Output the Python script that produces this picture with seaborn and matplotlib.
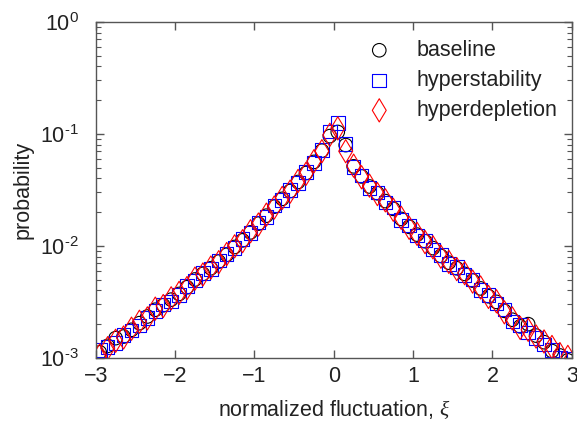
import numpy as np
import pandas as pd
import matplotlib
matplotlib.use('Agg')
import matplotlib.pyplot as plt
import matplotlib.ticker as mticker
import seaborn as sns

# bin centres of the normalized fluctuation
xi = [-2.95, -2.85, -2.75, -2.65, -2.55, -2.45, -2.35, -2.25, -2.15, -2.05,
      -1.95, -1.85, -1.75, -1.65, -1.55, -1.45, -1.35, -1.25, -1.15, -1.05,
      -0.95, -0.85, -0.75, -0.65, -0.55, -0.45, -0.35, -0.25, -0.15, -0.05,
      0.05, 0.15, 0.25, 0.35, 0.45, 0.55, 0.65, 0.75, 0.85, 0.95,
      1.05, 1.15, 1.25, 1.35, 1.45, 1.55, 1.65, 1.75, 1.85, 1.95,
      2.05, 2.15, 2.25, 2.35, 2.45, 2.55, 2.65, 2.75, 2.85, 2.95]

p_baseline = [0.00112, 0.00128, 0.00150, 0.00155, 0.00178, 0.00204, 0.00234, 0.00269, 0.00295, 0.00331,
              0.00372, 0.00427, 0.00501, 0.00562, 0.00631, 0.00724, 0.00832, 0.00977, 0.0112, 0.0132,
              0.0158, 0.0186, 0.0224, 0.0263, 0.0309, 0.0372, 0.0447, 0.0562, 0.0708, 0.0955,
              0.104, 0.0794, 0.0513, 0.0417, 0.0339, 0.0295, 0.0251, 0.0214, 0.0174, 0.0148,
              0.0126, 0.0110, 0.00955, 0.00813, 0.00708, 0.00631, 0.00562, 0.00490, 0.00417, 0.00355,
              0.00316, 0.00263, 0.00219, 0.00191, 0.00200, 0.00158, 0.00138, 0.00115, 0.00105, 0.00095]

p_hyperstability = [0.00118, 0.00125, 0.00135, 0.00160, 0.00175, 0.00195, 0.00228, 0.00262, 0.00300, 0.00320,
                    0.00365, 0.00440, 0.00490, 0.00575, 0.00620, 0.00740, 0.00850, 0.00960, 0.0115, 0.0130,
                    0.0162, 0.0182, 0.0230, 0.0258, 0.0315, 0.0365, 0.0455, 0.0550, 0.0720, 0.1050,
                    0.1250, 0.0810, 0.0505, 0.0425, 0.0330, 0.0300, 0.0245, 0.0220, 0.0170, 0.0152,
                    0.0124, 0.0112, 0.00930, 0.00830, 0.00690, 0.00645, 0.00550, 0.00500, 0.00405, 0.00365,
                    0.00305, 0.00270, 0.00212, 0.00196, 0.00168, 0.00150, 0.00132, 0.00118, 0.00100, 0.00098]

p_hyperdepletion = [0.00105, 0.00122, 0.00142, 0.00152, 0.00182, 0.00210, 0.00225, 0.00275, 0.00290, 0.00340,
                    0.00380, 0.00420, 0.00510, 0.00555, 0.00640, 0.00715, 0.00845, 0.00990, 0.0110, 0.0135,
                    0.0155, 0.0190, 0.0220, 0.0268, 0.0305, 0.0380, 0.0440, 0.0570, 0.0700, 0.0980,
                    0.1120, 0.0700, 0.0520, 0.0410, 0.0345, 0.0290, 0.0255, 0.0210, 0.0178, 0.0145,
                    0.0128, 0.0108, 0.00970, 0.00800, 0.00720, 0.00620, 0.00570, 0.00480, 0.00425, 0.00350,
                    0.00320, 0.00255, 0.00225, 0.00185, 0.00178, 0.00155, 0.00140, 0.00125, 0.00108, 0.00102]

sns.set_style('ticks')
plt.rcParams['font.family'] = ['Liberation Sans', 'DejaVu Sans']
plt.rcParams['mathtext.fontset'] = 'custom'
plt.rcParams['mathtext.rm'] = 'Liberation Sans'
plt.rcParams['mathtext.it'] = 'Liberation Serif:italic'
plt.rcParams['mathtext.default'] = 'regular'

txt = '#222222'
fs = 15.5

fig = plt.figure(figsize=(5.77, 4.21), dpi=100)
ax = fig.add_axes([0.166, 0.150, 0.825, 0.798])

df = pd.DataFrame({'xi': xi, 'baseline': p_baseline,
                   'hyperstability': p_hyperstability,
                   'hyperdepletion': p_hyperdepletion})

styles = [('baseline', 'o', 'black', 95),
          ('hyperstability', 's', 'blue', 95),
          ('hyperdepletion', 'd', 'red', 140)]
for name, mk, col, size in styles:
    sns.scatterplot(data=df, x='xi', y=name, marker=mk, s=size, color=col,
                    facecolors='none', edgecolor=col, linewidth=0.8,
                    label=name, ax=ax, clip_on=True)

ax.set_yscale('log')
ax.set_xlim(-3, 3)
ax.set_ylim(1e-3, 1)
ax.set_xticks([-3, -2, -1, 0, 1, 2, 3])
ax.set_xticklabels(['\u22123', '\u22122', '\u22121', '0', '1', '2', '3'])


def log_label(v, pos):
    e = int(round(np.log10(v)))
    if e < 0:
        return '$10^{\\text{-}%d}$' % (-e)
    return '$10^{%d}$' % e


ax.yaxis.set_major_locator(mticker.LogLocator(base=10, numticks=10))
ax.yaxis.set_major_formatter(mticker.FuncFormatter(log_label))
ax.yaxis.set_minor_locator(mticker.LogLocator(base=10, subs=np.arange(2, 10), numticks=10))
ax.yaxis.set_minor_formatter(mticker.NullFormatter())

ax.tick_params(which='both', direction='in', top=True, right=True,
               color='#555555', labelcolor=txt, labelsize=fs)
ax.tick_params(axis='x', pad=6)
ax.tick_params(axis='y', pad=12)
ax.tick_params(which='major', length=6, width=1)
ax.tick_params(which='minor', length=3.5, width=0.8)
for sp in ax.spines.values():
    sp.set_color('#555555')
    sp.set_linewidth(1)

ax.set_xlabel('normalized fluctuation, $\\mathit{\\xi}$', fontsize=fs,
              labelpad=7.5, color=txt)
ax.set_ylabel('probability', fontsize=fs, color=txt)
ax.yaxis.set_label_coords(-0.130, 0.5)

leg = ax.legend(loc='upper right', bbox_to_anchor=(1.0, 0.988), frameon=False,
                fontsize=fs, handlelength=2.0, handletextpad=0.75,
                labelspacing=0.42, borderaxespad=0.25, scatterpoints=1)
for t in leg.get_texts():
    t.set_color(txt)

fig.savefig('out.png', dpi=100)
